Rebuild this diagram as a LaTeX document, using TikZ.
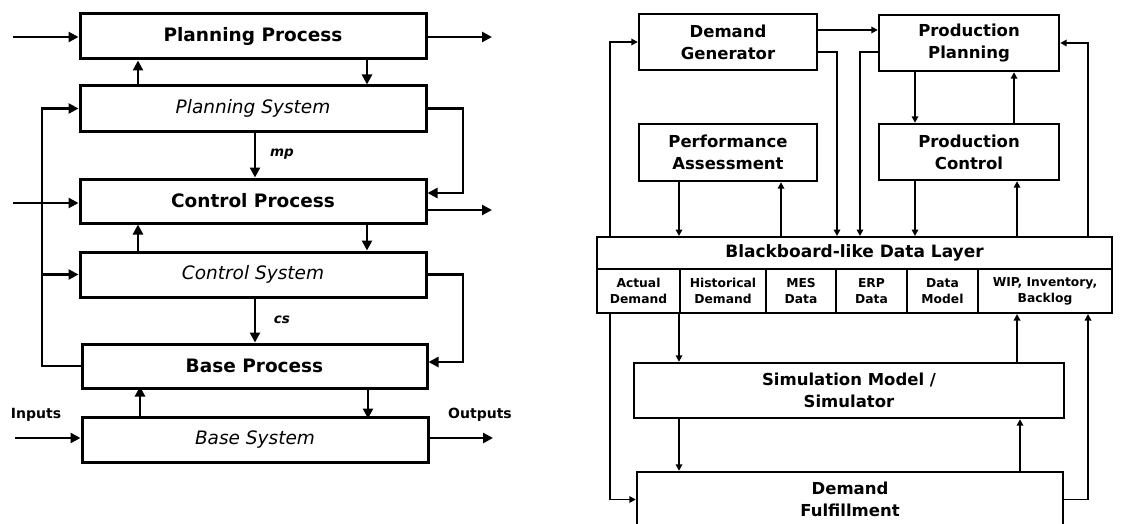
\documentclass[tikz,border=0pt]{standalone}
\usepackage{fontspec}
\setmainfont{DejaVu Sans}
\usetikzlibrary{arrows.meta}
\begin{document}
\begin{tikzpicture}[x=1pt,y=-1pt,
  lbox/.style={draw,line width=3pt,minimum width=346pt,minimum height=45pt,inner sep=0pt},
  proc/.style={lbox,font=\fontsize{18.5}{21}\selectfont\bfseries},
  sys/.style={lbox,font=\fontsize{18.5}{21}\selectfont\itshape},
  larr/.style={line width=2.6pt,-{Triangle[length=10pt,width=10pt]}},
  lab/.style={font=\fontsize{14}{16}\selectfont\bfseries},
  ilab/.style={font=\fontsize{13.5}{16}\selectfont\bfseries\itshape},
  rbox/.style={draw,line width=2.4pt,inner sep=0pt,align=center,
               font=\fontsize{16.5}{22}\selectfont\bfseries},
  cell/.style={draw,line width=2pt,inner sep=0pt,minimum height=44pt,align=center,
               font=\fontsize{12.3}{16}\selectfont\bfseries},
  rarr/.style={line width=1.9pt,-{Triangle[length=6.5pt,width=6.5pt]}}
]
\useasboundingbox (0,0) rectangle (1147,524);

% ---------------- hierarchy of processes and systems ----------------
\node[proc] (PP) at (253,36.5)  {Planning Process};
\node[sys]  (PS) at (253,108.5) {Planning System};
\node[proc,minimum height=44pt] (CP) at (253,201) {Control Process};
\node[sys]  (CS) at (253,274.5) {Control System};
\node[proc,minimum width=345pt,minimum height=44pt] (BP) at (254.5,366) {Base Process};
\node[sys]  (BS) at (255,439.5) {Base System};

\coordinate (xu) at (138,0);
\coordinate (xd) at (367,0);
\coordinate (xm) at (255,0);
\coordinate (lx) at (42,0);
\coordinate (inPP)  at (13,37);
\coordinate (outPP) at (492,37);
\coordinate (inCP)  at (13,203);
\coordinate (outCP) at (492,210);
\coordinate (inBS)  at (15,438);
\coordinate (outBS) at (493,438);
\coordinate (cpin)  at (463,193);
\coordinate (bpin)  at (463,362);

% external inputs and outputs
\draw[larr] (inPP) -- (inPP -| PP.west);
\draw[larr] (PP.east |- outPP) -- (outPP);
\draw[larr] (inCP) -- (inCP -| CP.west);
\draw[larr] (CP.east |- outCP) -- (outCP);
\draw[larr] (inBS) -- (inBS -| BS.west);
\draw[larr] (BS.east |- outBS) -- (outBS);
\node[lab] (inl)  at (36,415)  {Inputs};
\node[lab] (outl) at (480,415) {Outputs};

% process <-> system couplings
\draw[larr] (PS.north -| xu) -- (PP.south -| xu);
\draw[larr] (PP.south -| xd) -- (PS.north -| xd);
\draw[larr] (CS.north -| xu) -- (CP.south -| xu);
\draw[larr] (CP.south -| xd) -- (CS.north -| xd);
\draw[larr] (BS.north -| xu) ++(2,0) -- ++(0,-29);
\draw[larr] (BP.south -| xd) ++(1,0) -- ++(0,29);

% manipulated variables
\draw[larr] (PS.south -| xm) -- (CP.north -| xm);
\node[ilab] (mp) at (282,154) {mp};
\draw[larr] (CS.south -| xm) -- (BP.north -| xm);
\node[ilab] (cs) at (282,320) {cs};

% feedback loops
\draw[larr] (BP.west) -| (lx |- PS.west) -- (PS.west);
\draw[larr] (lx |- CS.west) -- (CS.west);
\draw[larr] (PS.east) -| (cpin) -- (cpin -| CP.east);
\draw[larr] (CS.east) -| (bpin) -- (bpin -| BP.east);

% ---------------- simulation-based architecture ----------------
\node[rbox,minimum width=178pt,minimum height=56pt] (DG)  at (728,42)    {Demand\\Generator};
\node[rbox,minimum width=180pt,minimum height=56pt] (PPl) at (969,43)    {Production\\Planning};
\node[rbox,minimum width=178pt,minimum height=57pt] (PA)  at (728,152.5) {Performance\\Assessment};
\node[rbox,minimum width=180pt,minimum height=56pt] (PC)  at (969,152)   {Production\\Control};

\node[rbox,minimum width=515pt,minimum height=32pt,line width=2pt,
      font=\fontsize{17}{20}\selectfont\bfseries] (DL) at (854.5,253) {Blackboard-like Data Layer};
\node[cell,minimum width=83pt]  (c1) at (638.5,291) {Actual\\Demand};
\node[cell,minimum width=86pt]  (c2) at (723,291)   {Historical\\Demand};
\node[cell,minimum width=70pt]  (c3) at (801,291)   {MES\\Data};
\node[cell,minimum width=71pt]  (c4) at (871.5,291) {ERP\\Data};
\node[cell,minimum width=71pt]  (c5) at (942.5,291) {Data\\Model};
\node[cell,minimum width=134pt] (c6) at (1045,291)  {WIP, Inventory,\\Backlog};

\node[rbox,minimum width=430pt,minimum height=55pt] (SM) at (849,390.5) {Simulation Model /\\Simulator};
\node[rbox,minimum width=426pt,minimum height=55pt] (DF) at (850,499.5) {Demand\\Fulfillment};

\coordinate (y30) at (0,30);
\coordinate (y52) at (0,52);
\coordinate (x610) at (610,0);
\coordinate (x679) at (679,0);
\coordinate (x781) at (781,0);
\coordinate (x837) at (837,0);
\coordinate (x860) at (860,0);
\coordinate (x915) at (915,0);
\coordinate (x1014) at (1014,0);
\coordinate (x1017) at (1017,0);
\coordinate (x1020) at (1020,0);
\coordinate (x1088) at (1088,0);

% planning-level flows
\draw[rarr] (DG.east |- y30) -- (PPl.west |- y30);
\draw[rarr] (DG.east |- y52) -| (x837 |- DL.north);
\draw[rarr] (PPl.west |- y52) -| (x860 |- DL.north);
\draw[rarr] (x610 |- DL.north) |- (DG.west);
\draw[rarr] (x1088 |- DL.north) |- (PPl.east);
\draw[rarr] (PPl.south -| x915) -- (PC.north -| x915);
\draw[rarr] (PC.north -| x1014) -- (PPl.south -| x1014);

% exchanges with the data layer
\draw[rarr] (PA.south -| x679) -- (DL.north -| x679);
\draw[rarr] (DL.north -| x781) -- (PA.south -| x781);
\draw[rarr] (PC.south -| x915) -- (DL.north -| x915);
\draw[rarr] (DL.north -| x1017) -- (PC.south -| x1017);

% execution-level flows
\draw[rarr] (x679 |- c1.south) -- (SM.north -| x679);
\draw[rarr] (SM.north -| x1017) -- (c6.south -| x1017);
\draw[rarr] (x610 |- c1.south) |- (DF.west);
\draw[rarr] (DF.east) -| (x1088 |- c6.south);
\draw[rarr] (SM.south -| x679) -- (DF.north -| x679);
\draw[rarr] (DF.north -| x1020) -- (SM.south -| x1020);
\end{tikzpicture}
\end{document}
